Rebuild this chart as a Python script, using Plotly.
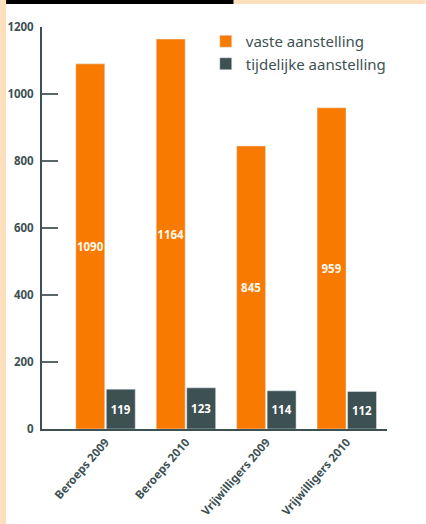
import plotly.graph_objects as go

categories = ["Beroeps 2009", "Beroeps 2010", "Vrijwilligers 2009", "Vrijwilligers 2010"]
vaste = [1090, 1164, 845, 959]
tijdelijk = [119, 123, 114, 112]
series_names = ["vaste aanstelling", "tijdelijke aanstelling"]
y_ticks = [0, 200, 400, 600, 800, 1000, 1200]

ORANGE = "#F87A00"
SLATE = "#3D5153"
TXT = "#3D5153"
FONT = "Noto Sans"

W, H = 426, 524
L, R, T, B = 42, 38.5, 27, 95
pw, ph = W - L - R, H - T - B

def px(x):
    return (x - L) / pw

def py(y):
    return (H - B - y) / ph

fig = go.Figure()
fig.add_trace(go.Bar(
    x=categories, y=vaste, name=series_names[0], marker_color=ORANGE,
    text=[str(v) for v in vaste], textposition="inside", insidetextanchor="middle",
    constraintext="none", textangle=0,
    textfont=dict(family=FONT, size=11.5, color="#FFF8EE", weight="bold"),
))
fig.add_trace(go.Bar(
    x=categories, y=tijdelijk, name=series_names[1], marker_color=SLATE,
    text=[str(v) for v in tijdelijk], textposition="inside", insidetextanchor="middle",
    constraintext="none", textangle=0,
    textfont=dict(family=FONT, size=11.5, color="#FFFFFF", weight="bold"),
))

fig.update_layout(
    width=W, height=H,
    margin=dict(l=L, r=R, t=T, b=B, pad=0, autoexpand=False),
    paper_bgcolor="white", plot_bgcolor="white",
    barmode="group", bargap=0.242, bargroupgap=0.05,
    font=dict(family=FONT, color=TXT),
    showlegend=True,
    legend=dict(x=px(206), y=py(25), xanchor="left", yanchor="top",
                font=dict(family=FONT, size=15, color=TXT),
                bgcolor="rgba(0,0,0,0)", tracegroupgap=0),
    xaxis=dict(type="category", range=[-0.79, 3.5], tickangle=-49, automargin=False,
               showline=True, linecolor=TXT, linewidth=2,
               ticks="", showgrid=False, zeroline=False,
               tickfont=dict(family=FONT, size=11.5, color=TXT, weight="bold")),
    xaxis2=dict(overlaying="x", anchor="y", side="bottom", range=[-0.79, 3.5],
                automargin=False,
                tickmode="array", tickvals=[0.5, 1.5, 2.5, 3.5], ticks="inside",
                ticklen=10, tickwidth=2, tickcolor=TXT, showticklabels=False,
                showline=False, showgrid=False, zeroline=False),
    yaxis=dict(range=[0, 1200], tickmode="array", tickvals=y_ticks, automargin=False,
               ticks="inside", ticklen=16, tickwidth=1.5, tickcolor="#5A6668",
               showline=True, linecolor=TXT, linewidth=2,
               showgrid=False, zeroline=False, ticklabelstandoff=4,
               tickfont=dict(family=FONT, size=11.5, color=TXT, weight="bold")),
    shapes=[
        dict(type="rect", xref="paper", yref="paper", x0=px(0), x1=px(6), y0=py(H), y1=py(0),
             fillcolor="#FDDFBD", line=dict(width=0), layer="above"),
        dict(type="rect", xref="paper", yref="paper", x0=px(6), x1=px(234), y0=py(4), y1=py(0),
             fillcolor="#000000", line=dict(width=0), layer="above"),
        dict(type="rect", xref="paper", yref="paper", x0=px(234), x1=px(W), y0=py(4), y1=py(0),
             fillcolor="#FDDFBD", line=dict(width=0), layer="above"),
    ],
)

fig.write_html("out.html")
